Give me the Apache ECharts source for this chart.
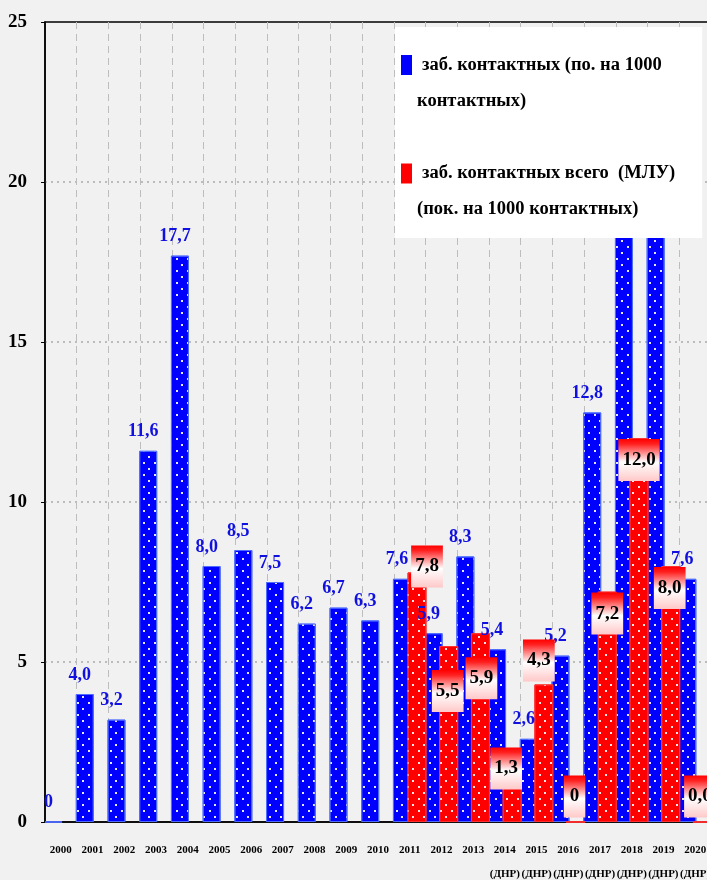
<!DOCTYPE html>
<html>
<head>
<meta charset="utf-8">
<script src="https://cdn.jsdelivr.net/npm/echarts@6/dist/echarts.min.js"></script>
<style>
  html, body { margin: 0; padding: 0; background: #f1f1f1; }
  #chart { width: 707px; height: 880px; }
</style>
</head>
<body>
<div id="chart"></div>
<script>
// ---- data ----
const years = ['2000','2001','2002','2003','2004','2005','2006','2007','2008','2009','2010',
               '2011','2012','2013','2014','2015','2016','2017','2018','2019','2020'];
const tickLabels = ['2000','2001','2002','2003','2004','2005','2006','2007','2008','2009','2010',
               '2011','2012','2013','2014\n(ДНР)','2015\n(ДНР)','2016\n(ДНР)','2017\n(ДНР)',
               '2018\n(ДНР)','2019\n(ДНР)','2020\n(ДНР)'];
// 2018 and 2019 blue values are hidden behind the legend in the reference (estimated)
const blueValues = [0, 4.0, 3.2, 11.6, 17.7, 8.0, 8.5, 7.5, 6.2, 6.7, 6.3,
                    7.6, 5.9, 8.3, 5.4, 2.6, 5.2, 12.8, 21.4, 20.3, 7.6];
const blueLabels = ['0','4,0','3,2','11,6','17,7','8,0','8,5','7,5','6,2','6,7','6,3',
                    '7,6','5,9','8,3','5,4','2,6','5,2','12,8','','','7,6'];
const redValues = [null, null, null, null, null, null, null, null, null, null, null,
                   7.8, 5.5, 5.9, 1.3, 4.3, 0, 7.2, 12.0, 8.0, 0.0];
const redLabels = ['','','','','','','','','','','',
                   '7,8','5,5','5,9','1,3','4,3','0','7,2','12,0','8,0','0,0'];
const blueName = 'заб. контактных (по. на 1000 контактных)';
const redName = 'заб. контактных всего  (МЛУ) (пок. на 1000 контактных)';
const legendLines = {};
legendLines[blueName] = ['заб. контактных (по. на 1000', 'контактных)'];
legendLines[redName] = ['заб. контактных всего  (МЛУ)', '(пок. на 1000 контактных)'];
const yTicks = { min: 0, max: 25, interval: 5 };

// ---- styling (label placement for the red boxes, per year) ----
const redLabelOffsets = {
  '2011': [10, -27], '2012': [-1, 24], '2013': [1, 24], '2014': [-6, -33],
  '2015': [-5, -45], '2016': [-1, -46], '2017': [0, 1], '2018': [0, 1],
  '2019': [-1, 1], '2020': [-2, -46]
};
const FONT = 'Liberation Serif';
const dots = {
  symbol: 'rect', symbolSize: 1, color: 'rgba(255,255,255,0.9)',
  dashArrayX: [[1.5, 8.5], [0, 5, 1.5, 3.5]], dashArrayY: [1.5, 4]
};

const chart = echarts.init(document.getElementById('chart'));

const redGradient = new echarts.graphic.LinearGradient(0, 0, 0, 1, [
  { offset: 0, color: '#ff0000' },
  { offset: 0.12, color: '#ff2020' },
  { offset: 0.55, color: '#ffffff' },
  { offset: 1, color: '#ffc8c8' }
]);

const redData = redValues.map((v, i) => {
  if (v === null) return null;
  const off = redLabelOffsets[years[i]] || [0, 0];
  const pad = redLabels[i].length < 2 ? [11, 6] : [11, 4];
  return { value: v, label: { offset: off, padding: pad } };
});

chart.setOption({
  backgroundColor: '#f1f1f1',
  animation: false,
  grid: {
    left: 45, top: 22, width: 666, bottom: 58,
    outerBoundsMode: 'none', containLabel: false,
    show: true, borderColor: '#000', borderWidth: 1.5, backgroundColor: 'transparent'
  },
  legend: {
    left: 395, top: 27, orient: 'vertical',
    backgroundColor: '#ffffff',
    padding: [28, 27, 19, 0],
    itemGap: 53,
    itemWidth: 0, itemHeight: 0,
    selectedMode: false,
    data: [blueName, redName],
    formatter: function (name) {
      const l = legendLines[name];
      const sq = name === blueName ? 'sqb' : 'sqr';
      return '{' + sq + '|}{gp|}{t|' + l[0] + '}\n{sp|}{t|' + l[1] + '}';
    },
    textStyle: {
      fontFamily: FONT, fontWeight: 'bold', fontSize: 19, color: '#000',
      rich: {
        t: { fontFamily: FONT, fontWeight: 'bold', fontSize: 18.5, color: '#000', lineHeight: 36 },
        sqb: { width: 11, height: 20, backgroundColor: '#0000ff', lineHeight: 36 },
        sqr: { width: 11, height: 20, backgroundColor: '#ff0000', lineHeight: 36 },
        gp: { width: 10, lineHeight: 36 },
        sp: { width: 16, lineHeight: 36 }
      }
    }
  },
  xAxis: {
    type: 'category',
    data: years,
    axisLine: { show: true, lineStyle: { color: '#000', width: 1.5 } },
    axisTick: { show: false },
    axisLabel: {
      interval: 0, margin: 16, hideOverlap: false,
      fontFamily: FONT, fontWeight: 'bold', fontSize: 11, color: '#000', lineHeight: 24,
      formatter: function (v, i) { return tickLabels[i]; }
    },
    splitLine: { show: true, interval: 0, showMinLine: false,
                 lineStyle: { color: '#bdbdbd', type: [7, 5], width: 1 } }
  },
  yAxis: {
    type: 'value',
    min: yTicks.min, max: yTicks.max, interval: yTicks.interval,
    axisLine: { show: true, lineStyle: { color: '#000', width: 1.5 } },
    axisTick: { show: true, length: 4, lineStyle: { color: '#000', width: 1 } },
    axisLabel: { margin: 18, fontFamily: FONT, fontWeight: 'bold', fontSize: 19, color: '#000' },
    splitLine: { show: true, showMinLine: false, showMaxLine: false,
                 lineStyle: { color: '#aaaaaa', type: [2, 4], width: 1.5 } }
  },
  series: [
    {
      name: blueName,
      type: 'bar',
      data: blueValues,
      barWidth: 18,
      barGap: '-19%',
      itemStyle: { color: '#0000ff', borderColor: '#4d6bff', borderWidth: 1, decal: dots },
      label: {
        show: true, position: 'top', distance: 10, offset: [-5, 0],
        fontFamily: FONT, fontWeight: 'bold', fontSize: 18, color: '#1010e0',
        formatter: function (p) { return blueLabels[p.dataIndex]; }
      }
    },
    {
      name: redName,
      type: 'bar',
      data: redData,
      barWidth: 19,
      itemStyle: { color: '#ff0000', borderColor: '#ff3030', borderWidth: 1, decal: dots },
      label: {
        show: true, position: 'insideTop', distance: 0,
        fontFamily: FONT, fontWeight: 'bold', fontSize: 19, color: '#000',
        lineHeight: 20, padding: [11, 4],
        backgroundColor: redGradient,
        formatter: function (p) { return redLabels[p.dataIndex]; }
      }
    }
  ]
});
</script>
</body>
</html>
